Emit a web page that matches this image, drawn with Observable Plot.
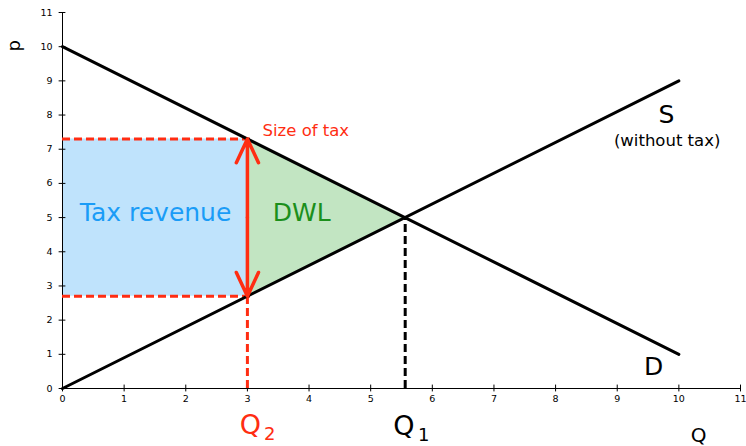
<!DOCTYPE html>
<html>
<head>
<meta charset="utf-8">
<script src="https://cdn.jsdelivr.net/npm/d3@7"></script>
<script src="https://cdn.jsdelivr.net/npm/@observablehq/plot@0.6"></script>
<style>
  html, body { margin: 0; padding: 0; background: #fff; }
  #chart svg { display: block; }
</style>
</head>
<body>
<div id="chart"></div>
<script>
// ---- data ----
const qTicks = [0, 1, 2, 3, 4, 5, 6, 7, 8, 9, 10, 11];
const pTicks = [0, 1, 2, 3, 4, 5, 6, 7, 8, 9, 10, 11];
const demand = [{q: 0, p: 10}, {q: 10, p: 1}];
const supply = [{q: 0, p: 0}, {q: 10, p: 9}];
const qTax = 3;          // Q2
const pBuyer = 7.3;      // demand price at Q2
const pSeller = 2.7;     // supply price at Q2
const qEq = 5.56;        // Q1
const pEq = 5;
const revenue = [{x1: 0, x2: qTax, y1: pSeller, y2: pBuyer}];
const dwl = [{q: qTax, lo: pSeller, hi: pBuyer}, {q: qEq, lo: pEq, hi: pEq}];

const RED = "#ff2d12";
const FONT = "DejaVu Sans";

const startLabels = [
  {q: 3.245, p: 7.55, text: "Size of tax", color: RED, size: 16.5}
];
const labels = [
  {q: 1.51, p: 5.12, text: "Tax revenue", color: "#1a9cf7", size: 25},
  {q: 3.88, p: 5.12, text: "DWL", color: "#1b8f1b", size: 25},
  {q: 9.8, p: 7.99, text: "S", color: "#000", size: 25},
  {q: 9.81, p: 7.26, text: "(without tax)", color: "#000", size: 16.5},
  {q: 9.59, p: 0.64, text: "D", color: "#000", size: 25},
  {q: 10.32, p: -1.37, text: "Q", color: "#000", size: 20},
  {q: 3.05, p: -1.08, text: "Q", color: RED, size: 27},
  {q: 3.36, p: -1.33, text: "2", color: RED, size: 18},
  {q: 5.54, p: -1.12, text: "Q", color: "#000", size: 27},
  {q: 5.86, p: -1.37, text: "1", color: "#000", size: 18}
];

const chart = Plot.plot({
  width: 746,
  height: 446,
  marginLeft: 62,
  marginRight: 6,
  marginTop: 12,
  marginBottom: 58,
  x: {domain: [0, 11]},
  y: {domain: [0, 11]},
  style: {fontFamily: FONT, background: "#fff"},
  marks: [
    Plot.rect(revenue, {x1: "x1", x2: "x2", y1: "y1", y2: "y2", fill: "#bfe3fc"}),
    Plot.areaY(dwl, {x: "q", y1: "lo", y2: "hi", fill: "#c2e5c2"}),
    // axes lines
    Plot.ruleY([0], {stroke: "#000", strokeWidth: 1}),
    Plot.ruleX([0], {stroke: "#000", strokeWidth: 1}),
    // tick marks crossing the axes
    Plot.ruleX(qTicks, {x: d => d, y1: -0.1, y2: 0.1, stroke: "#000", strokeWidth: 1}),
    Plot.ruleY(pTicks, {y: d => d, x1: -0.055, x2: 0.055, stroke: "#000", strokeWidth: 1}),
    Plot.axisX({ticks: qTicks, tickSize: 0, tickPadding: 7, fontSize: 9.5, label: null, tickFormat: d => String(d)}),
    Plot.axisY({ticks: pTicks, tickSize: 0, tickPadding: 10, fontSize: 9.5, label: null, tickFormat: d => String(d)}),
    Plot.text(["p"], {x: -0.78, y: 10.03, text: d => d, fontSize: 18, rotate: -90, fill: "#000"}),
    // dashed guides
    Plot.ruleY([pBuyer, pSeller], {y: d => d, x1: 0, x2: qTax + 0.05, stroke: RED, strokeWidth: 3, strokeDasharray: "8,4"}),
    Plot.ruleX([qTax], {x: d => d, y1: 0, y2: pSeller, stroke: RED, strokeWidth: 3, strokeDasharray: "8,4"}),
    Plot.ruleX([qEq], {x: d => d, y1: 0, y2: pEq, stroke: "#000", strokeWidth: 3, strokeDasharray: "8,4"}),
    // curves
    Plot.line(demand, {x: "q", y: "p", stroke: "#000", strokeWidth: 3}),
    Plot.line(supply, {x: "q", y: "p", stroke: "#000", strokeWidth: 3}),
    // tax arrow (double headed)
    Plot.arrow([{y1: (pBuyer + pSeller) / 2, y2: pBuyer}, {y1: (pBuyer + pSeller) / 2, y2: pSeller}], {
      x1: qTax, x2: qTax, y1: "y1", y2: "y2", stroke: RED, strokeWidth: 3.5, headLength: 16, headAngle: 50, bend: 0, insetEnd: 0, insetStart: 0
    }),
    // labels
    Plot.text(startLabels, {x: "q", y: "p", text: "text", fill: "color", fontSize: "size", textAnchor: "start"}),
    Plot.text(labels, {x: "q", y: "p", text: "text", fill: "color", fontSize: "size", textAnchor: "middle"})
  ]
});
document.getElementById("chart").appendChild(chart);
</script>
</body>
</html>
